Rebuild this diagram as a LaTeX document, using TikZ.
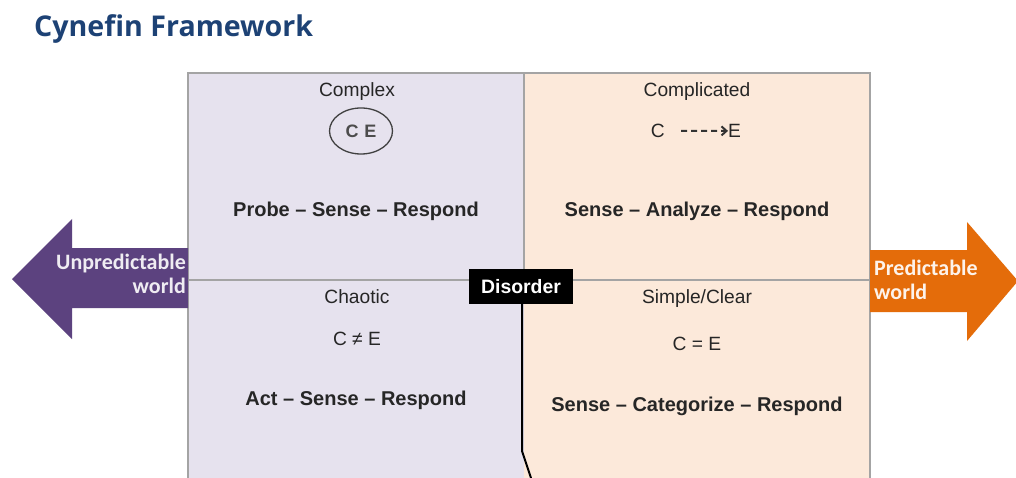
\documentclass[tikz,border=0pt]{standalone}
\usepackage{fontspec}
\setmainfont{Liberation Sans}
\newfontfamily\titlefont{Open Sans}
\newfontfamily\arrowfont{Carlito}
\usetikzlibrary{shapes.geometric,arrows.meta}
\definecolor{titleblue}{HTML}{1D4275}
\definecolor{lavender}{HTML}{E6E2EE}
\definecolor{peach}{HTML}{FCE9DA}
\definecolor{edgegray}{HTML}{A4A4A4}
\definecolor{purplearrow}{HTML}{5C427F}
\definecolor{orangearrow}{HTML}{E46C0A}
\definecolor{textgray}{HTML}{262626}
\tikzset{
  label/.style={font=\fontsize{19.2}{20}\selectfont, text=textgray, inner sep=0pt, anchor=base},
  motto/.style={font=\fontsize{20}{20}\selectfont\bfseries, text=textgray, inner sep=0pt, anchor=base},
  arrowtext/.style={font=\arrowfont\fontsize{22}{24}\selectfont\bfseries, inner sep=0pt},
}
\begin{document}
\begin{tikzpicture}[x=1pt,y=-1pt]
\useasboundingbox (0,0) rectangle (1016,478);
\fill[white] (0,0) rectangle (1016,478);

% title
\node[anchor=west, font=\titlefont\fontsize{28.6}{32}\selectfont\bfseries, text=titleblue, inner sep=0pt] (title) at (34,29) {Cynefin Framework};

% quadrant backgrounds
\fill[lavender] (188,73) rectangle (524,478);
\fill[peach] (524,73) rectangle (870,478);
\draw[edgegray, line width=1.6pt] (188,478) -- (188,73) -- (870,73) -- (870,478);
\draw[edgegray, line width=1.4pt] (524,73) -- (524,270);
\draw[edgegray, line width=1.4pt] (188,280) -- (870,280);

% side arrows
\fill[purplearrow] (188,248) -- (72,248) -- (72,219) -- (12,279) -- (72,339) -- (72,308) -- (188,308) -- cycle;
\fill[orangearrow] (870,250) -- (967,250) -- (967,222) -- (1018,281) -- (967,341) -- (967,312) -- (870,312) -- cycle;
\node[arrowtext, text=white!90!purplearrow, align=right, anchor=east] (unpred) at (186,274) {Unpredictable\\world};
\node[arrowtext, text=white!92!orangearrow, align=left, anchor=west] (pred) at (874,280) {Predictable\\world};

% complex
\node[label] (cxname) at (357,96.5) {Complex};
\node[ellipse, draw=black!75, line width=1.3pt, minimum width=63pt, minimum height=46pt, inner sep=0pt] (cxrel) at (361,131) {};
\node[label, font=\fontsize{18}{20}\selectfont\bfseries, text=black!70, anchor=center] (cxce) at (cxrel) {C\hspace{6pt}E};
\node[motto] (cxact) at (356,217) {Probe – Sense – Respond};

% complicated
\node[label] (cdname) at (697,96.5) {Complicated};
\node[label, anchor=base east] (cdc) at (665,137.5) {C};
\node[label, anchor=base west] (cde) at (728,137.5) {E};
\coordinate (cdstart) at (681,131);
\draw[black!80, line width=2pt, dash pattern=on 6pt off 4pt, -{Straight Barb[length=5pt,width=9pt]}] (cdstart) -- (cde.west);
\node[motto] (cdact) at (697,216.5) {Sense – Analyze – Respond};

% chaotic
\node[label] (chname) at (357,303.5) {Chaotic};
\node[label] (chce) at (357,345.5) {C ≠ E};
\node[motto] (chact) at (356,405.5) {Act – Sense – Respond};

% simple / clear
\node[label] (clname) at (697,303.5) {Simple/Clear};
\node[label] (clce) at (697,350.5) {C = E};
\node[motto] (clact) at (697,411.5) {Sense – Categorize – Respond};

% disorder
\node[fill=black, text=white, font=\fontsize{19.4}{20}\selectfont\bfseries, minimum width=104pt, minimum height=35pt, inner sep=0pt] (dis) at (521,286.5) {Disorder};
\coordinate (bend) at (522,451);
\coordinate (foot) at (531,478);
\draw[black, line width=2pt] (dis.south -| bend) -- (bend) -- (foot);
\end{tikzpicture}
\end{document}
